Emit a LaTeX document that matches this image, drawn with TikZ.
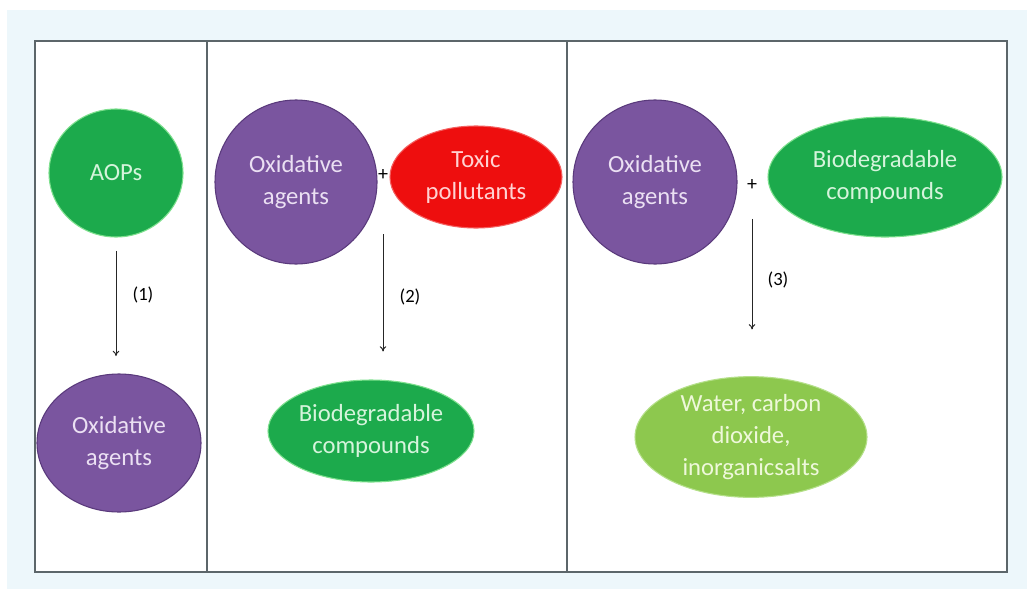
\documentclass[tikz,border=0pt]{standalone}
\usepackage{fontspec}
\setmainfont{Carlito}
\usetikzlibrary{shapes.geometric,arrows.meta}
\definecolor{bgblue}{HTML}{EDF7FB}
\definecolor{framegray}{HTML}{5C666A}
\definecolor{gfill}{HTML}{1CAA4C}
\definecolor{gedge}{HTML}{7EE08E}
\definecolor{pfill}{HTML}{7A559F}
\definecolor{pedge}{HTML}{5A3A7C}
\definecolor{rfill}{HTML}{EE0E0E}
\definecolor{redge}{HTML}{F46060}
\definecolor{lgfill}{HTML}{8DC84E}
\definecolor{lgedge}{HTML}{B5E08A}
\definecolor{ptext}{HTML}{EBE0F3}
\definecolor{gtext}{HTML}{D6F4DC}
\definecolor{rtext}{HTML}{FFD2D2}
\definecolor{lgtext}{HTML}{EEF8DA}
\begin{document}
\begin{tikzpicture}[x=0.75pt,y=-0.75pt,
  frame/.style={draw=framegray,line width=1.4pt},
  divider/.style={draw=framegray,line width=1pt},
  blob/.style={ellipse,inner sep=0pt,align=center,font=\fontsize{18.5}{24}\selectfont},
  purpleblob/.style={blob,fill=pfill,draw=pedge,line width=0.8pt,text=ptext},
  greenblob/.style={blob,fill=gfill,draw=gedge,line width=0.8pt,text=gtext},
  redblob/.style={blob,fill=rfill,draw=redge,line width=0.8pt,text=rtext},
  lgreenblob/.style={blob,fill=lgfill,draw=lgedge,line width=0.8pt,text=lgtext},
  plusmark/.style={inner sep=0pt,font=\fontsize{15}{15}\selectfont},
  steplabel/.style={inner sep=0pt,font=\fontsize{14}{14}\selectfont},
  arr/.style={draw=black!85,line width=0.7pt,-{To[length=4pt,width=5pt]}}
]
\useasboundingbox (0,0) rectangle (1027,589);
\fill[white] (0,0) rectangle (1027,589);
\fill[bgblue] (7,10) rectangle (1027,589);
\draw[frame,fill=white] (35,41) rectangle (1007,572);
\draw[divider] (207,41) -- (207,572);
\draw[divider] (567,41) -- (567,572);

% panel 1
\node[greenblob,minimum width=134*0.75pt,minimum height=128*0.75pt] (aops) at (116,173) {AOPs};
\node[purpleblob,minimum width=164*0.75pt,minimum height=138*0.75pt] (ox1) at (119,443) {Oxidative\\agents};
\draw[arr,shorten <=10pt,shorten >=13pt] (aops.south) -- (aops.south |- ox1.north);
\node[steplabel] (l1) at (143,295) {(1)};

% panel 2
\node[purpleblob,minimum width=162*0.75pt,minimum height=164*0.75pt] (ox2) at (296,182) {Oxidative\\agents};
\node[plusmark] (plus2) at (383,175) {+};
\node[redblob,minimum width=172*0.75pt,minimum height=102*0.75pt] (tox) at (476,177) {Toxic\\pollutants};
\node[greenblob,minimum width=206*0.75pt,minimum height=102*0.75pt] (bio2) at (371,431) {Biodegradable\\compounds};
\draw[arr,shorten <=40pt,shorten >=21pt] (plus2.south) -- (plus2.south |- bio2.north);
\node[steplabel] (l2) at (410,297) {(2)};

% panel 3
\node[purpleblob,minimum width=164*0.75pt,minimum height=164*0.75pt] (ox3) at (655,182) {Oxidative\\agents};
\node[plusmark] (plus3) at (752,185) {+};
\node[greenblob,minimum width=234*0.75pt,minimum height=120*0.75pt] (bio3) at (885,177) {Biodegradable\\compounds};
\node[lgreenblob,minimum width=232*0.75pt,minimum height=120*0.75pt] (prod) at (751,437) {Water, carbon\\dioxide,\\inorganicsalts};
\draw[arr,shorten <=21pt,shorten >=35pt] (plus3.south) -- (plus3.south |- prod.north);
\node[steplabel] (l3) at (778,280) {(3)};
\end{tikzpicture}
\end{document}
